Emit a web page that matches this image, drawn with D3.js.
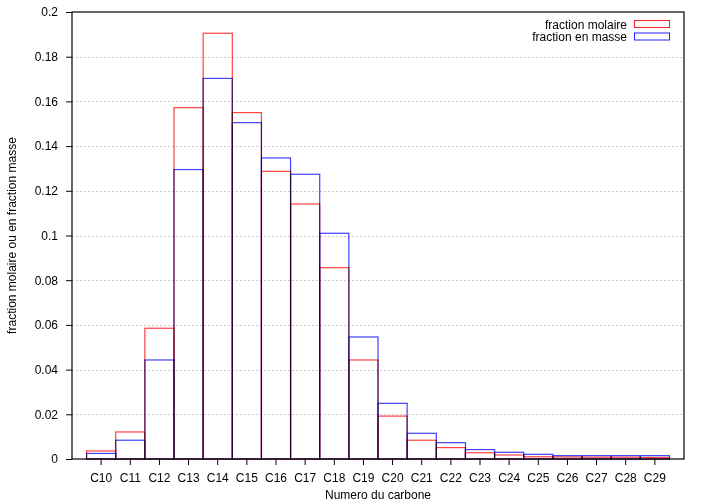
<!DOCTYPE html>
<html><head><meta charset="utf-8">
<script src="https://cdn.jsdelivr.net/npm/d3@7"></script>
<style>body{margin:0;background:#fff}svg{display:block}text{font-family:"Liberation Sans",Arial,sans-serif}</style>
</head><body><svg id="c" width="705" height="504"></svg>
<script>
const categories = ["C10","C11","C12","C13","C14","C15","C16","C17","C18","C19","C20","C21","C22","C23","C24","C25","C26","C27","C28","C29"];
const molaire = [0.0036,0.0121,0.0585,0.1572,0.1905,0.1550,0.1287,0.1141,0.0856,0.0443,0.0192,0.0084,0.0051,0.0028,0.0018,0.0010,0.0009,0.0008,0.0008,0.0007];
const masse   = [0.0025,0.0084,0.0443,0.1295,0.1703,0.1505,0.1347,0.1274,0.1010,0.0546,0.0249,0.0115,0.0073,0.0042,0.0030,0.0021,0.0015,0.0015,0.0015,0.0015];
const yTicks = [0,0.02,0.04,0.06,0.08,0.1,0.12,0.14,0.16,0.18,0.2];
const seriesNames = ["fraction molaire","fraction en masse"];
const colors = ["#ff2020","#2020ff"];

const L=72,R=684,T=12,B=459;
const FS=12;
const svg=d3.select("#c");
const x=d3.scaleBand().domain(categories).range([L,R]).paddingInner(0).paddingOuter(0.5);
const y=d3.scaleLinear().domain([0,0.2]).range([B,T]);

// grid
svg.append("g").selectAll("line").data(yTicks.slice(1,-1)).join("line")
  .attr("x1",L).attr("x2",R).attr("y1",d=>Math.round(y(d))+0.5).attr("y2",d=>Math.round(y(d))+0.5)
  .attr("stroke","#cccccc").attr("stroke-dasharray","2,2").attr("stroke-width",1);

// bars
[molaire,masse].forEach((vals,i)=>{
  svg.append("g").style("mix-blend-mode","multiply").selectAll("rect").data(categories).join("rect")
    .attr("x",d=>x(d)).attr("width",x.bandwidth())
    .attr("y",(d,j)=>y(vals[j])).attr("height",(d,j)=>B-y(vals[j]))
    .attr("fill","none").attr("stroke",colors[i]).attr("stroke-width",1.2).attr("stroke-opacity",0.85);
});

// axes
const yAxis=d3.axisLeft(y).tickValues(yTicks).tickFormat(d=>d3.format("~g")(d)).tickSize(6).tickPadding(8);
const gy=svg.append("g").attr("transform",`translate(${L},0)`).call(yAxis);
const xAxis=d3.axisBottom(x).tickSize(6).tickPadding(8);
const gx=svg.append("g").attr("transform",`translate(0,${B})`).call(xAxis);
[gx,gy].forEach(g=>{g.select(".domain").remove();g.selectAll("text").attr("font-size",FS).attr("fill","#000").style("font-family","Liberation Sans, Arial, sans-serif");g.selectAll("line").attr("stroke","#000");});

// frame
svg.append("rect").attr("x",L).attr("y",T).attr("width",R-L).attr("height",B-T).attr("fill","none").attr("stroke","#000").attr("stroke-width",1.2);

// labels
svg.append("text").attr("x",(L+R)/2).attr("y",499).attr("text-anchor","middle").attr("font-size",FS).text("Numero du carbone");
svg.append("text").attr("transform",`translate(16,${(T+B)/2}) rotate(-90)`).attr("text-anchor","middle").attr("font-size",FS).text("fraction molaire ou en fraction masse");

// legend
seriesNames.forEach((n,i)=>{
  const ly=24+i*12.5;
  svg.append("text").attr("x",627).attr("y",ly+4.5).attr("text-anchor","end").attr("font-size",FS).text(n);
  svg.append("rect").attr("x",634.5).attr("y",ly-3.5).attr("width",35).attr("height",7).attr("fill","none").attr("stroke",colors[i]).attr("stroke-width",1);
});
</script></body></html>
